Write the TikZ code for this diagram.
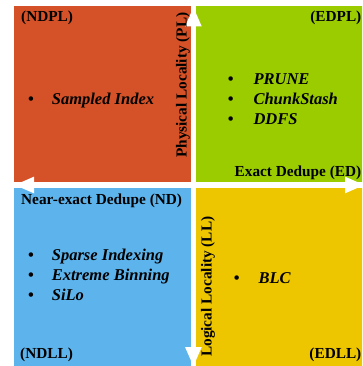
\documentclass[tikz,border=0pt]{standalone}
\usepackage{fontspec}
\setmainfont{Liberation Serif}
\usetikzlibrary{arrows.meta}
\definecolor{qred}{RGB}{213,82,40}
\definecolor{qgreen}{RGB}{155,204,0}
\definecolor{qblue}{RGB}{93,180,236}
\definecolor{qyellow}{RGB}{237,198,0}
\tikzset{
  quadlabel/.style={inner sep=0pt, font=\fontsize{15.3}{18}\selectfont\bfseries},
  itemtext/.style={inner sep=0pt, anchor=base west, font=\fontsize{16.5}{20}\selectfont\bfseries\itshape},
  bulletmark/.style={inner sep=0pt, anchor=base, font=\fontsize{16.5}{20}\selectfont\bfseries},
  axisarrow/.style={white, line width=5.5pt, {Triangle[width=15pt,length=20pt]}-{Triangle[width=15pt,length=20pt]}}
}
\begin{document}
\begin{tikzpicture}[x=1pt,y=-1pt]
\useasboundingbox (0,0) rectangle (362,366);
\clip (0,0) rectangle (362,366);
% quadrants
\fill[qred] (14,6) rectangle (190.7,181.7);
\fill[qgreen] (196,6) rectangle (370,181.7);
\fill[qblue] (14,188.3) rectangle (190.7,370);
\fill[qyellow] (196,188.3) rectangle (370,370);
% axes
\coordinate (vtop) at (193.4,6.5);
\coordinate (vbot) at (193.4,367);
\coordinate (hleft) at (14,185);
\coordinate (hright) at (365,185);
\draw[axisarrow] (vbot) -- (vtop);
\draw[axisarrow] (hleft) -- (hright);
% corner labels
\node[quadlabel, anchor=base west] (ndpl) at (21,21.5) {(NDPL)};
\node[quadlabel, anchor=base east] (edpl) at (361.5,21.5) {(EDPL)};
\node[quadlabel, anchor=base west] (ndll) at (20,358) {(NDLL)};
\node[quadlabel, anchor=base east] (edll) at (361.5,358) {(EDLL)};
% axis labels
\node[quadlabel, anchor=base east] (ed) at (361.5,176) {Exact Dedupe (ED)};
\node[quadlabel, anchor=base west] (nd) at (21,204) {Near-exact Dedupe (ND)};
\node[quadlabel, anchor=base west, rotate=90] (pl) at (186.5,158) {Physical Locality (PL)};
\node[quadlabel, anchor=base west, rotate=90] (ll) at (211.5,357) {Logical Locality (LL)};
% NDPL items
\node[bulletmark] (b1) at (31,104.7) {•};
\node[itemtext] (t1) at (51.7,104.7) {Sampled Index};
% EDPL items
\node[bulletmark] (b2) at (230.7,84.7) {•};
\node[itemtext] (t2) at (253.3,84.7) {PRUNE};
\node[bulletmark] (b3) at (230.7,105) {•};
\node[itemtext] (t3) at (253.3,105) {ChunkStash};
\node[bulletmark] (b4) at (230.7,125) {•};
\node[itemtext] (t4) at (253.3,125) {DDFS};
% NDLL items
\node[bulletmark] (b5) at (31,260.7) {•};
\node[itemtext] (t5) at (51.7,260.7) {Sparse Indexing};
\node[bulletmark] (b6) at (31,280.7) {•};
\node[itemtext] (t6) at (51.7,280.7) {Extreme Binning};
\node[bulletmark] (b7) at (31,300.7) {•};
\node[itemtext] (t7) at (51.7,300.7) {SiLo};
% EDLL items
\node[bulletmark] (b8) at (236.7,283) {•};
\node[itemtext] (t8) at (258.3,283) {BLC};
\end{tikzpicture}
\end{document}
